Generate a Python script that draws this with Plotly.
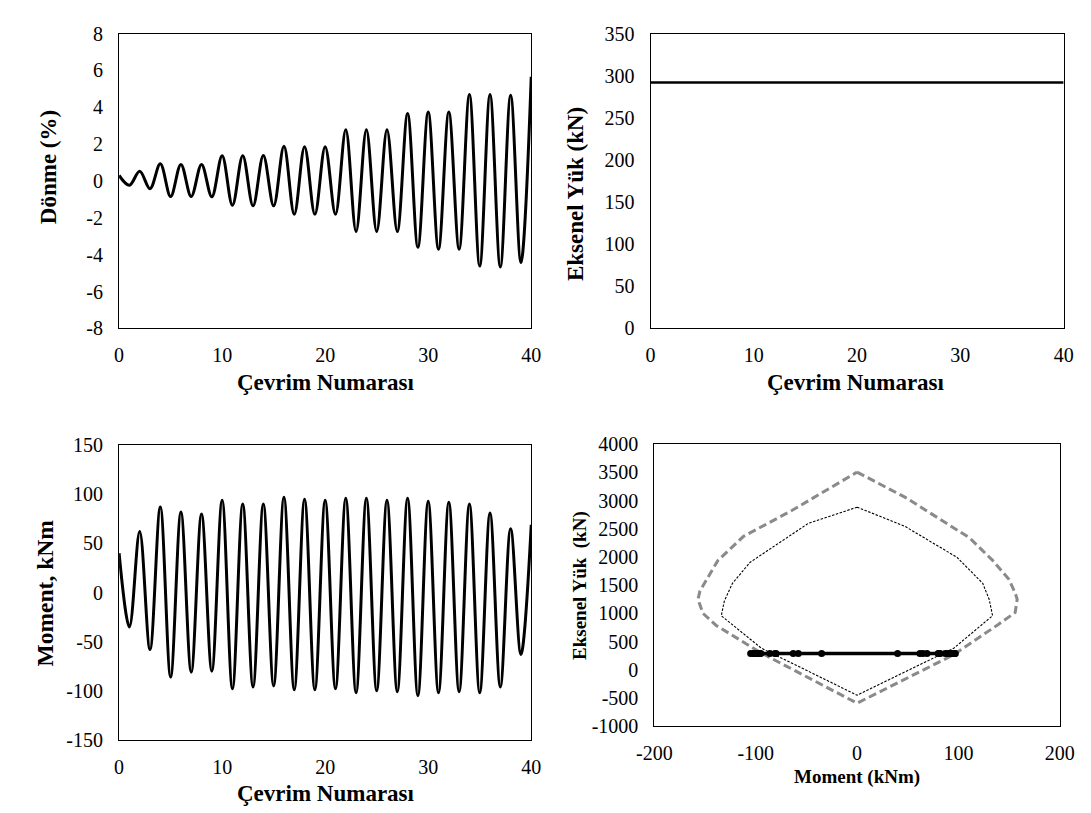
import plotly.graph_objects as go

# ---- data ----
cycles = list(range(0, 41))
rotation = [0.30, -0.23, 0.53, -0.42, 0.93, -0.84, 0.90, -0.84, 0.90, -0.86,
            1.37, -1.32, 1.37, -1.35, 1.39, -1.35, 1.88, -1.81, 1.86, -1.81,
            1.86, -1.81, 2.78, -2.74, 2.78, -2.74, 2.78, -2.74, 3.66, -3.60,
            3.74, -3.70, 3.74, -3.70, 4.69, -4.62, 4.69, -4.67, 4.66, -4.43, 5.66]
moment = [40, -35, 62, -58, 87, -86, 82, -81, 80, -80,
          94, -98, 90, -96, 90, -95, 97, -99, 95, -99,
          94, -98, 96, -102, 96, -100, 94, -101, 96, -105,
          93, -102, 92, -101, 90, -102, 81, -96, 65, -63, 69]
axial_cycles = [0, 40]
axial_load = [292, 292]

outer_M = [0, 47.6, 111, 134, 150, 156, 158, 156, 139, 95.4, 0,
           -94.4, -139, -152, -157, -155, -137.5, -112, -64, 0]
outer_P = [3505, 3057, 2340, 1936, 1600, 1362, 1250, 1017, 800, 270, -590,
           298, 788, 1000, 1250, 1400, 1936, 2367, 2828, 3505]
inner_M = [0, 47.6, 98.6, 117.7, 124, 130.4, 133.7, 95.4, 0,
           -94.4, -134, -131, -123, -105.5, -48, 0]
inner_P = [2884, 2540, 1995, 1650, 1534, 1247, 960, 384, -448,
           384, 960, 1219, 1534, 1908, 2598, 2884]

x_ticks_cycle = [0, 10, 20, 30, 40]
y_ticks_rot = [-8, -6, -4, -2, 0, 2, 4, 6, 8]
y_ticks_axial = [0, 50, 100, 150, 200, 250, 300, 350]
y_ticks_moment = [-150, -100, -50, 0, 50, 100, 150]
x_ticks_pm = [-200, -100, 0, 100, 200]
y_ticks_pm = [-1000, -500, 0, 500, 1000, 1500, 2000, 2500, 3000, 3500, 4000]

W, H = 1091, 813
FONT = "Liberation Serif"


def px(x):
    return x / W


def py(y):
    return 1 - y / H


def lab(vals):
    return [str(v).replace("\u2212", "-") for v in vals]


fig = go.Figure()

fig.add_trace(go.Scatter(x=cycles, y=rotation, mode="lines",
                         line=dict(color="black", width=3, shape="spline", smoothing=1.0),
                         xaxis="x", yaxis="y", showlegend=False))
fig.add_trace(go.Scatter(x=axial_cycles, y=axial_load, mode="lines",
                         line=dict(color="black", width=2.5),
                         xaxis="x2", yaxis="y2", showlegend=False))
fig.add_trace(go.Scatter(x=cycles, y=moment, mode="lines",
                         line=dict(color="black", width=3, shape="spline", smoothing=1.0),
                         xaxis="x3", yaxis="y3", showlegend=False))
fig.add_trace(go.Scatter(x=outer_M, y=outer_P, mode="lines",
                         line=dict(color="#8a8a8a", width=3, dash="8px,4px"),
                         xaxis="x4", yaxis="y4", showlegend=False))
fig.add_trace(go.Scatter(x=inner_M, y=inner_P, mode="lines",
                         line=dict(color="black", width=1.1, dash="2.5px,1.5px"),
                         xaxis="x4", yaxis="y4", showlegend=False))
fig.add_trace(go.Scatter(x=moment, y=[axial_load[0]] * len(moment), mode="lines+markers",
                         line=dict(color="black", width=3.5),
                         marker=dict(color="black", size=7),
                         xaxis="x4", yaxis="y4", showlegend=False))

axis_common = dict(showline=True, linecolor="black", linewidth=1.2, mirror=True,
                   showgrid=False, zeroline=False, ticks="",
                   tickfont=dict(family=FONT, size=20, color="black"))

domains = {
    1: ((96, 521), (15, 318)),
    2: ((644, 1070), (15, 318)),
    3: ((96, 521), (438, 741)),
    4: ((648, 1066), (437, 727)),
}
xranges = {1: [0, 40], 2: [0, 40], 3: [0, 40], 4: [-200, 200]}
xticks = {1: x_ticks_cycle, 2: x_ticks_cycle, 3: x_ticks_cycle, 4: x_ticks_pm}
yranges = {1: [-8, 8], 2: [0, 350], 3: [-150, 150], 4: [-1000, 4000]}
yticks = {1: y_ticks_rot, 2: y_ticks_axial, 3: y_ticks_moment, 4: y_ticks_pm}

layout = dict(width=W, height=H, margin=dict(l=0, r=0, t=0, b=0),
              plot_bgcolor="white", paper_bgcolor="white", showlegend=False)
for i in range(1, 5):
    (x0, x1), (y0, y1) = domains[i]
    sx = "" if i == 1 else str(i)
    layout["xaxis" + sx] = dict(axis_common, domain=[px(x0), px(x1)], range=xranges[i],
                                tickmode="array", tickvals=xticks[i], ticktext=lab(xticks[i]),
                                ticklabelstandoff=9, anchor="y" + sx)
    layout["yaxis" + sx] = dict(axis_common, domain=[py(y1), py(y0)], range=yranges[i],
                                tickmode="array", tickvals=yticks[i], ticktext=lab(yticks[i]),
                                ticklabelstandoff=11, anchor="x" + sx)
fig.update_layout(**layout)


def ann(text, x, y, size, angle=0):
    fig.add_annotation(text=text, x=px(x), y=py(y), xref="paper", yref="paper",
                       showarrow=False, textangle=angle, xanchor="center", yanchor="middle",
                       font=dict(family=FONT, size=size, color="black"))


ann("<b>Çevrim Numarası</b>", 309, 374, 23)
ann("<b>Dönme (%)</b>", 24, 152, 23, -90)
ann("<b>Çevrim Numarası</b>", 856, 374, 23)
ann("<b>Eksenel Yük (kN)</b>", 566, 180, 23, -90)
ann("<b>Çevrim Numarası</b>", 309, 796, 23)
ann("<b>Moment, kNm</b>", 20, 590, 23.5, -90)
ann("<b>Moment (kNm)</b>", 857, 779, 19)
ann("<b>Eksenel Yük  (kN)</b>", 572, 582, 19, -90)

fig.write_html("out.html")
